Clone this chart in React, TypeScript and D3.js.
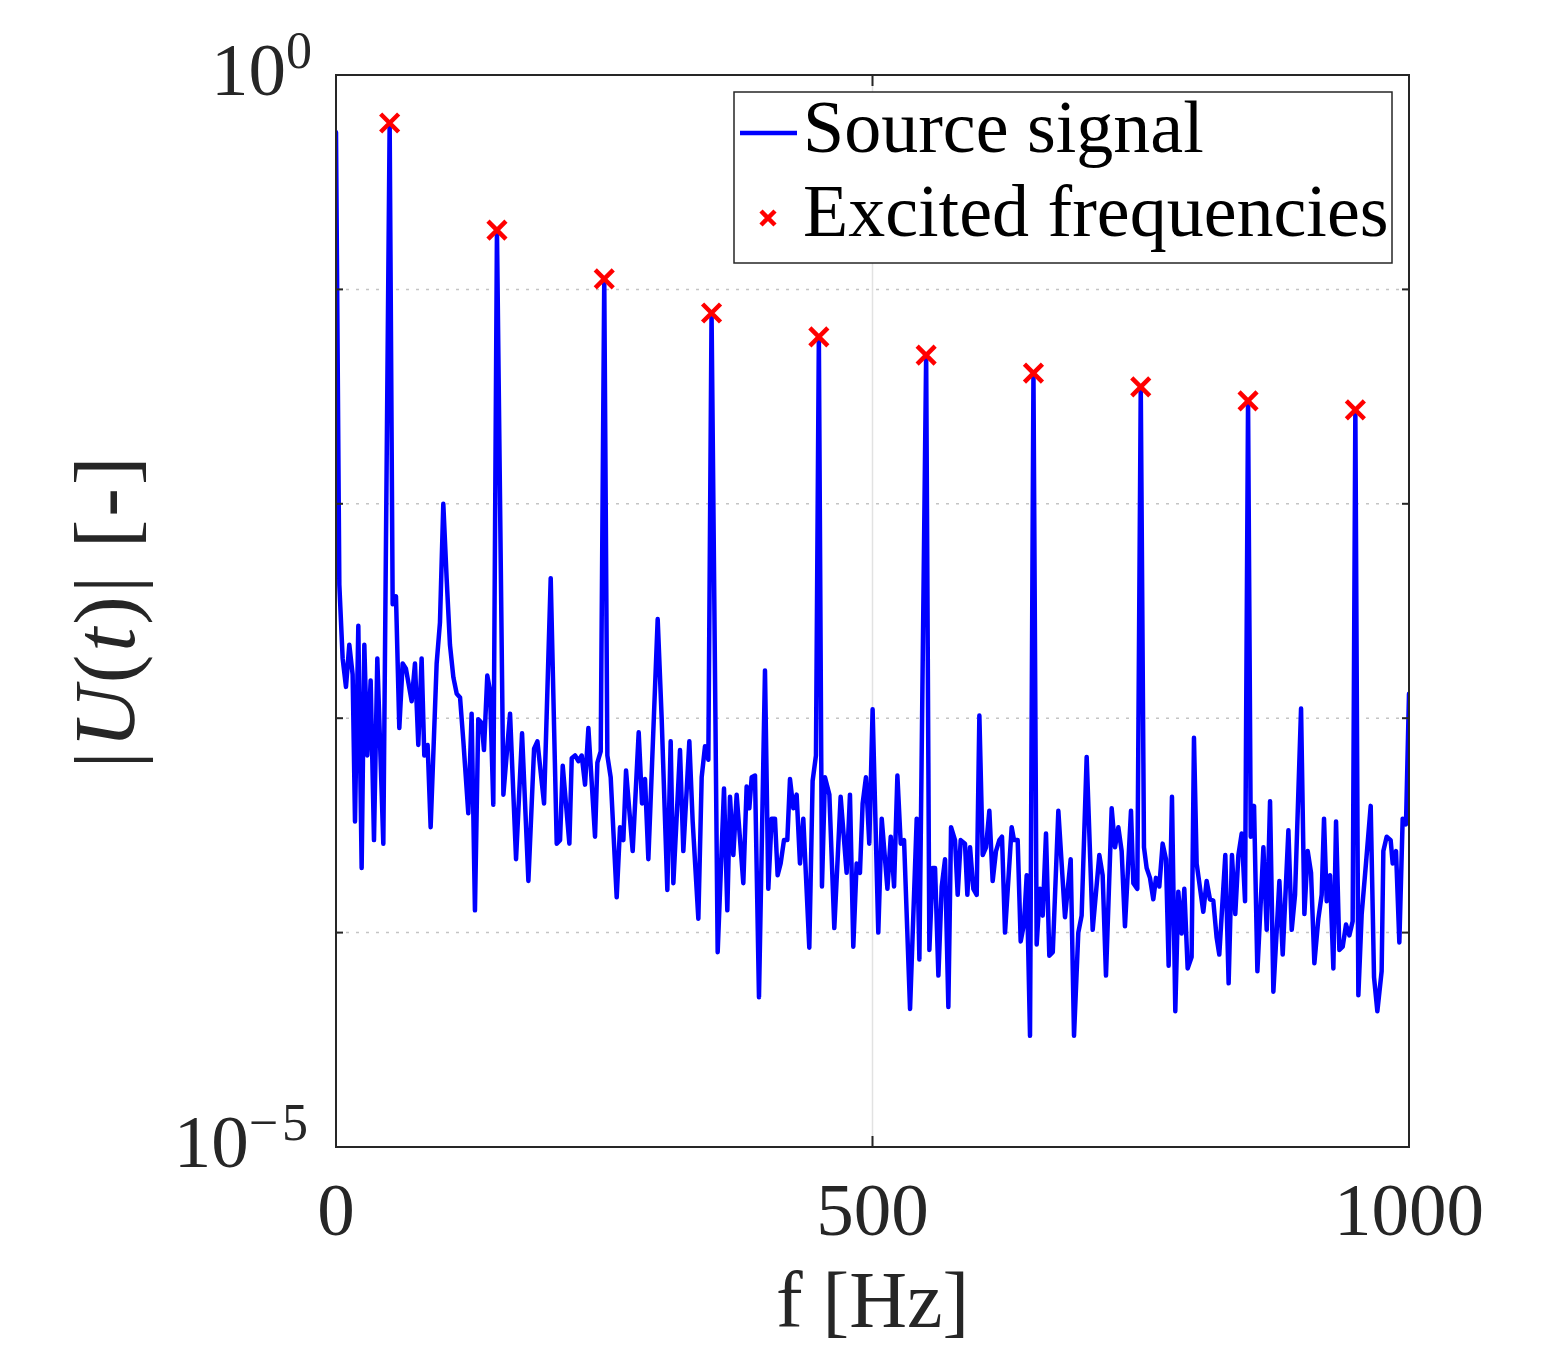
import React from 'react';
import * as d3 from 'd3';

// spectrum of the source signal, frequency [Hz] and magnitude
const sourceFreq = [
  0, 3.1, 6.2, 9.3, 12.4, 15.5, 17.7, 20.8, 23.9, 26.4, 29.2, 32.3, 35.4, 38.5, 44.1,
  50, 52.8, 55.9, 59.0, 62.1, 65.2, 70.5, 73.6, 76.7, 79.8, 82.3, 85.4, 88.2, 93.8, 96.9,
  100.0, 103.1, 106.2, 109.4, 112.5, 115.6, 118.7, 123.3, 126.4, 129.5, 132.6, 135.8, 137.9, 141.0, 143.5, 146.6,
  150, 156.0, 162.2, 167.8, 173.4, 179.3, 184.6, 187.7, 193.9, 200.1, 205.7, 208.8, 211.3, 217.5, 219.7,
  222.8, 225.9, 229.0, 232.1, 235.2, 241.4, 243.6, 246.7,
  250, 252.9, 256.0, 261.6, 264.7, 267.8, 270.3, 276.5, 282.1, 285.2, 288.0, 291.1, 299.8, 303.5, 308.8,
  311.9, 314.4, 320.6, 323.7, 329.3, 332.4, 337.7, 340.8, 343.9, 347.0,
  350, 355.7, 361.6, 364.7, 367.2, 370.3, 373.4, 379.6, 382.7, 385.2, 387.4, 390.5, 394.2, 399.8, 402.9,
  406.0, 409.1, 411.6, 414.4, 417.5, 420.6, 423.1, 426.2, 429.3, 432.4, 435.5, 441.1, 444.2, 447.3,
  450, 452.9, 455.7, 459.8, 464.4, 470.3, 475.9, 479.0, 482.1, 485.2, 488.3, 490.8, 493.9, 497.0, 500.1,
  505.4, 508.6, 513.9, 517.0, 520.1, 523.2, 526.3, 529.4, 535.0, 541.2, 543.7,
  550, 553.0, 556.1, 558.3, 561.4, 564.5, 567.6, 570.7, 573.2, 576.9, 579.4, 582.2, 586.2, 588.4, 590.9,
  594.0, 597.1, 599.6, 602.7, 605.8, 608.9, 612.0, 615.1, 618.2, 620.7, 623.5, 629.7, 631.9, 635.3, 638.1,
  641.2, 643.7, 646.8,
  650, 653.0, 656.1, 658.6, 661.7, 664.8, 668.0, 673.2, 679.4, 684.7, 687.8, 691.8, 694.9, 699.6, 705.2,
  711.4, 714.5, 717.6, 722.9, 726.0, 729.1, 732.2, 735.3, 740.9, 743.1, 746.8,
  750, 753.0, 755.5, 758.6, 761.7, 764.2, 767.3, 770.4, 773.5, 776.0, 779.1, 782.2, 785.0, 788.1, 790.6,
  793.7, 797.4, 799.6, 802.1, 808.3, 811.4, 814.5, 817.6, 820.7, 823.2, 828.8, 831.9, 835.0, 838.1, 841.0,
  844.1, 847.2,
  850, 852.5, 855.6, 858.7, 864.3, 867.4, 870.5, 873.6, 879.2, 882.3, 887.6, 890.7, 893.8, 899.4, 902.5,
  905.6, 908.7, 911.8, 915.5, 918.6, 920.8, 923.3, 926.4, 929.5, 932.0, 935.1, 938.2, 941.3, 944.4, 947.5,
  950, 952.8, 955.9, 959.9, 964.3, 967.4, 970.5, 974.5, 976.1, 979.2, 982.9, 984.8, 987.9, 991.0, 994.1,
  997.2, 1000,
];

const sourceMag = [
  0.54, 4.2e-3, 1.9e-3, 1.4e-3, 2.2e-3, 1.6e-3, 3.3e-4, 2.7e-3, 2.0e-4, 2.2e-3, 6.7e-4, 1.5e-3, 2.7e-4, 1.9e-3, 2.6e-4,
  0.6, 3.4e-3, 3.7e-3, 9.0e-4, 1.8e-3, 1.7e-3, 1.2e-3, 1.8e-3, 7.5e-4, 1.9e-3, 6.7e-4, 7.5e-4, 3.1e-4, 1.8e-3, 2.8e-3,
  1.0e-2, 4.5e-3, 2.2e-3, 1.55e-3, 1.3e-3, 1.25e-3, 7.8e-4, 3.6e-4, 1.05e-3, 1.27e-4, 9.9e-4, 9.5e-4, 7.1e-4, 1.58e-3, 1.35e-3, 3.95e-4,
  0.189, 4.4e-4, 1.05e-3, 2.2e-4, 8.5e-4, 1.74e-4, 7.2e-4, 7.8e-4, 4.0e-4, 4.5e-3, 2.6e-4, 2.7e-4, 6.0e-4, 2.6e-4, 6.5e-4,
  6.7e-4, 6.3e-4, 6.7e-4, 4.9e-4, 9.0e-4, 2.8e-4, 6.2e-4, 7.0e-4,
  0.112, 6.7e-4, 5.3e-4, 1.46e-4, 3.1e-4, 2.7e-4, 5.7e-4, 2.4e-4, 8.6e-4, 4.0e-4, 5.2e-4, 2.2e-4, 2.9e-3, 1.0e-3, 1.58e-4,
  7.8e-4, 1.7e-4, 7.1e-4, 2.4e-4, 7.8e-4, 3.3e-4, 1.16e-4, 5.3e-4, 7.4e-4, 6.4e-4,
  0.078, 8.1e-5, 4.7e-4, 1.27e-4, 4.3e-4, 2.3e-4, 4.4e-4, 1.7e-4, 4.8e-4, 3.8e-4, 5.3e-4, 5.4e-4, 5.0e-5, 1.67e-3, 1.6e-4,
  3.4e-4, 3.4e-4, 1.85e-4, 2.1e-4, 2.7e-4, 2.7e-4, 5.2e-4, 3.8e-4, 4.4e-4, 2.1e-4, 3.4e-4, 8.5e-5, 5.1e-4, 6.7e-4,
  0.06, 1.64e-4, 5.3e-4, 4.4e-4, 1.05e-4, 4.3e-4, 1.9e-4, 4.4e-4, 8.6e-5, 2.1e-4, 1.9e-4, 4.0e-4, 5.3e-4, 2.6e-4, 1.1e-3,
  1.0e-4, 3.4e-4, 1.6e-4, 2.8e-4, 1.64e-4, 5.4e-4, 2.6e-4, 2.7e-4, 4.4e-5, 3.4e-4, 7.5e-5,
  0.0494, 8.3e-5, 2.0e-4, 2.0e-4, 6.3e-5, 1.64e-4, 2.2e-4, 4.5e-5, 3.1e-4, 2.7e-4, 1.5e-4, 2.7e-4, 2.6e-4, 1.5e-4, 2.5e-4,
  1.6e-4, 1.5e-4, 1.03e-3, 2.3e-4, 2.5e-4, 3.7e-4, 1.74e-4, 2.4e-4, 2.7e-4, 2.8e-4, 1.0e-4, 3.1e-4, 2.7e-4, 2.7e-4, 9.1e-5,
  1.1e-4, 1.85e-4, 3.3e-5,
  0.0407, 8.8e-5, 1.6e-4, 1.2e-4, 2.9e-4, 7.8e-5, 8.1e-5, 3.7e-4, 1.18e-4, 2.2e-4, 3.3e-5, 1.0e-4, 1.2e-4, 6.6e-4, 1.03e-4,
  2.3e-4, 1.85e-4, 6.3e-5, 3.8e-4, 2.5e-4, 3.1e-4, 2.4e-4, 1.07e-4, 3.7e-4, 1.7e-4, 1.6e-4,
  0.0351, 2.5e-4, 2.0e-4, 1.8e-4, 1.43e-4, 1.8e-4, 1.64e-4, 2.6e-4, 2.2e-4, 7.0e-5, 4.3e-4, 4.3e-5, 1.55e-4, 9.9e-5, 1.6e-4,
  6.8e-5, 7.7e-5, 8.1e-4, 2.1e-4, 1.25e-4, 1.74e-4, 1.43e-4, 1.41e-4, 9.5e-5, 7.9e-5, 2.3e-4, 5.8e-5, 2.3e-4, 1.22e-4, 2.3e-4,
  2.9e-4, 1.4e-4,
  0.0302, 2.8e-4, 3.9e-4, 6.6e-5, 2.5e-4, 1.03e-4, 4.1e-4, 5.3e-5, 1.74e-4, 7.9e-5, 3.0e-4, 1.03e-4, 1.5e-4, 1.11e-3, 1.22e-4,
  2.4e-4, 1.9e-4, 7.2e-5, 1.16e-4, 1.5e-4, 3.4e-4, 1.4e-4, 1.85e-4, 6.8e-5, 3.3e-4, 8.3e-5, 8.6e-5, 1.09e-4, 9.7e-5, 1.13e-4,
  0.0274, 5.1e-5, 1.22e-4, 2.1e-4, 3.9e-4, 6.2e-5, 4.3e-5, 6.6e-5, 2.4e-4, 2.8e-4, 2.7e-4, 2.1e-4, 2.4e-4, 9.0e-5, 3.4e-4,
  3.2e-4, 1.3e-3,
];

// excited frequencies (red crosses)
const excitedFreq = [50, 150, 250, 350, 450, 550, 650, 750, 850, 950];
const excitedMag = [0.597, 0.189, 0.112, 0.0776, 0.06, 0.0494, 0.0407, 0.0351, 0.0302, 0.0274];

const xTicks = [0, 500, 1000];
const yMajorExps = [0, -5];
const yMinorExps = [-1, -2, -3, -4];

const width = 1546;
const height = 1349;
const margin = { top: 75, right: 137, bottom: 202, left: 336 };
const font = '"Liberation Serif", "DejaVu Serif", serif';
const axisColor = '#262626';

const Cross = ({ cx, cy, r }: { cx: number; cy: number; r: number }) => (
  <path
    d={`M${cx - r},${cy - r}L${cx + r},${cy + r}M${cx - r},${cy + r}L${cx + r},${cy - r}`}
    stroke="#ff0000"
    strokeWidth={4.5}
    fill="none"
  />
);

export default function App() {
  const x0 = margin.left;
  const x1 = width - margin.right;
  const y0 = margin.top;
  const y1 = height - margin.bottom;

  const x = d3.scaleLinear().domain([0, 1000]).range([x0, x1]);
  const y = d3.scaleLog().domain([1e-5, 1]).range([y1, y0]);

  const line = d3
    .line<number>()
    .x((d, i) => x(sourceFreq[i]))
    .y((d) => y(d));

  return (
    <svg
      width={width}
      height={height}
      style={{ position: 'absolute', left: 0, top: 0, background: '#fff' }}
      fontFamily={font}
    >
      <defs>
        <clipPath id="plot">
          <rect x={x0} y={y0} width={x1 - x0} height={y1 - y0} />
        </clipPath>
      </defs>
      <rect x={0} y={0} width={width} height={height} fill="#fff" />

      {/* grid */}
      {yMinorExps.map((e) => (
        <line
          key={'gy' + e}
          x1={x0}
          x2={x1}
          y1={y(Math.pow(10, e))}
          y2={y(Math.pow(10, e))}
          stroke="#c4c4c4"
          strokeWidth={1.5}
          strokeDasharray="3,7"
        />
      ))}
      {xTicks
        .filter((t) => t > 0 && t < 1000)
        .map((t) => (
          <line key={'gx' + t} x1={x(t)} x2={x(t)} y1={y0} y2={y1} stroke="#e2e2e2" strokeWidth={1.5} />
        ))}

      {/* data */}
      <g clipPath="url(#plot)">
        <path
          d={line(sourceMag) || ''}
          fill="none"
          stroke="#0000ff"
          strokeWidth={4.5}
          strokeLinejoin="round"
          strokeLinecap="round"
        />
      </g>
      {excitedFreq.map((f, i) => (
        <Cross key={'m' + f} cx={x(f)} cy={y(excitedMag[i])} r={9} />
      ))}

      {/* axes box and ticks */}
      <rect x={x0} y={y0} width={x1 - x0} height={y1 - y0} fill="none" stroke={axisColor} strokeWidth={2} />
      {xTicks.map((t) => (
        <g key={'tx' + t}>
          <line x1={x(t)} x2={x(t)} y1={y1} y2={y1 - 11} stroke={axisColor} strokeWidth={2} />
          <line x1={x(t)} x2={x(t)} y1={y0} y2={y0 + 11} stroke={axisColor} strokeWidth={2} />
          <text x={x(t)} y={1235} fontSize={75} textAnchor="middle" fill={axisColor}>
            {t}
          </text>
        </g>
      ))}
      {yMinorExps.map((e) => (
        <g key={'ty' + e}>
          <line x1={x0} x2={x0 + 7} y1={y(Math.pow(10, e))} y2={y(Math.pow(10, e))} stroke={axisColor} strokeWidth={2} />
          <line x1={x1} x2={x1 - 7} y1={y(Math.pow(10, e))} y2={y(Math.pow(10, e))} stroke={axisColor} strokeWidth={2} />
        </g>
      ))}
      {yMajorExps.map((e) => (
        <g key={'tyM' + e}>
          <line x1={x0} x2={x0 + 11} y1={y(Math.pow(10, e))} y2={y(Math.pow(10, e))} stroke={axisColor} strokeWidth={2} />
          <line x1={x1} x2={x1 - 11} y1={y(Math.pow(10, e))} y2={y(Math.pow(10, e))} stroke={axisColor} strokeWidth={2} />
          <text x={312} y={y(Math.pow(10, e)) + 20} fontSize={75} textAnchor="end" fill={axisColor}>
            10
            <tspan fontSize={52} dy={-27} letterSpacing={e < 0 ? 4 : 0}>
              {e < 0 ? '\u2212' + Math.abs(e) : e}
            </tspan>
          </text>
        </g>
      ))}

      {/* axis labels */}
      <text x={(x0 + x1) / 2} y={1327} fontSize={80} textAnchor="middle" fill={axisColor}>
        f [Hz]
      </text>
      <text
        transform={`translate(134, ${(y0 + y1) / 2}) rotate(-90)`}
        fontSize={86}
        letterSpacing={3}
        textAnchor="middle"
        fill={axisColor}
      >
        |<tspan fontStyle="italic">U</tspan>(<tspan fontStyle="italic">t</tspan>)| [-]
      </text>

      {/* legend */}
      <rect x={734} y={92} width={658} height={171} fill="#fff" stroke={axisColor} strokeWidth={1.5} />
      <line x1={740} x2={797} y1={133} y2={133} stroke="#0000ff" strokeWidth={4.5} />
      <text x={803} y={152} fontSize={74} fill="#000">
        Source signal
      </text>
      <Cross cx={768} cy={218} r={7} />
      <text x={803} y={236} fontSize={74} fill="#000">
        Excited frequencies
      </text>
    </svg>
  );
}
